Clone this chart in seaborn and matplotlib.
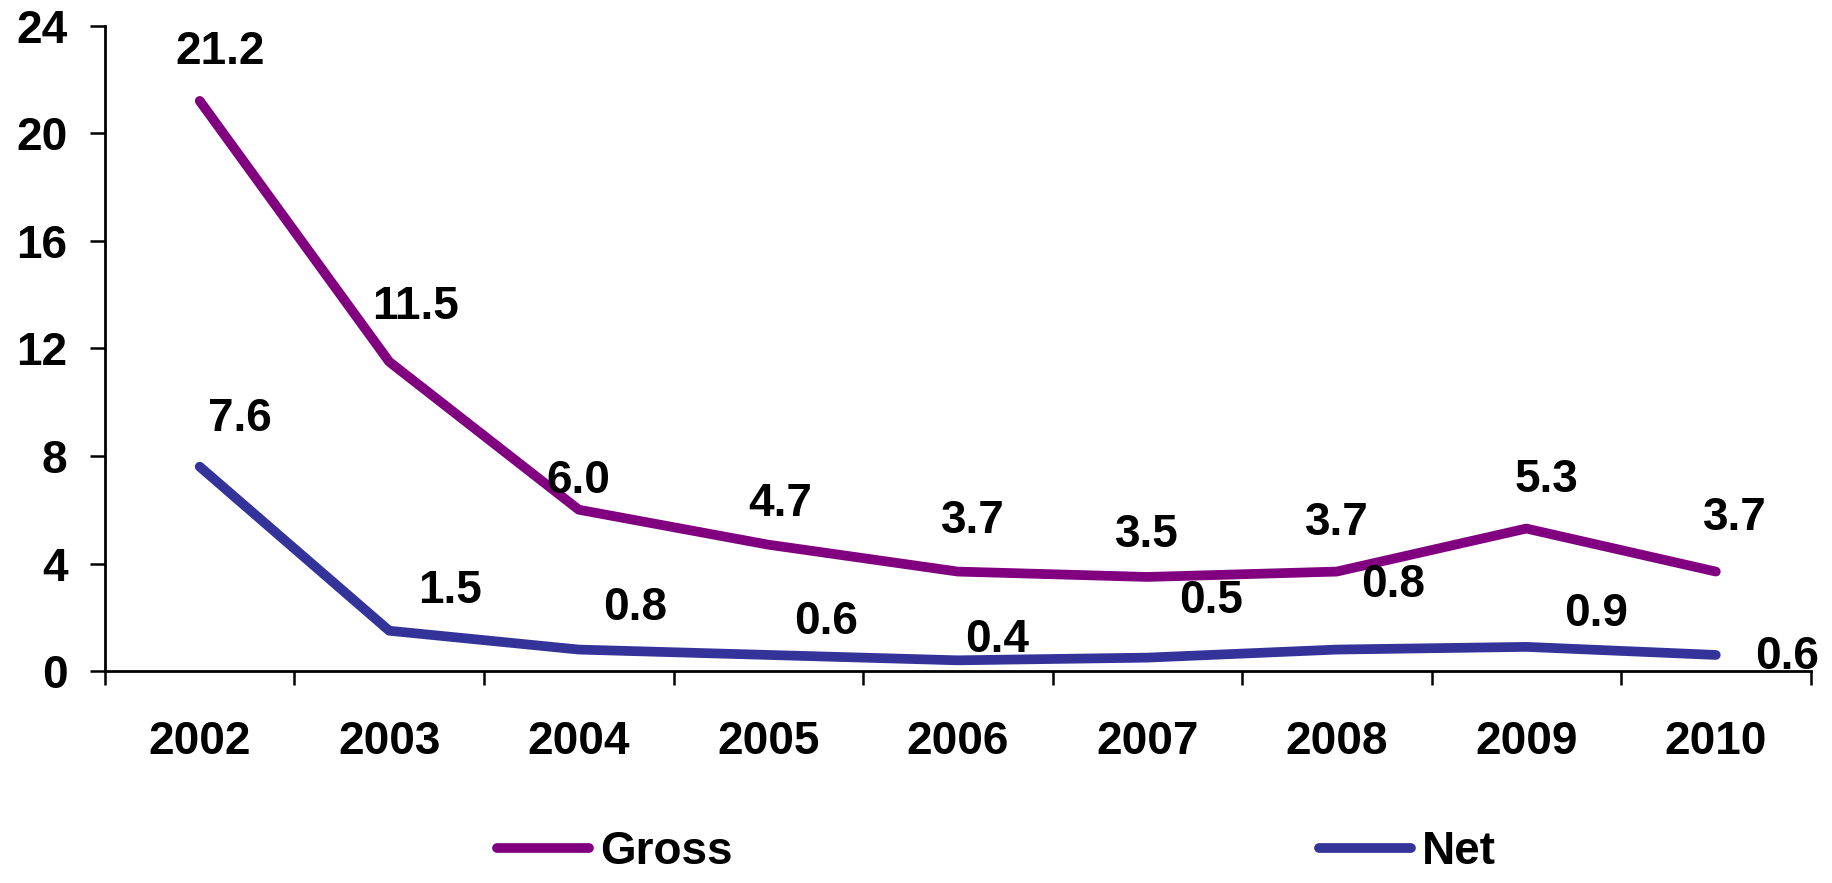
import pandas as pd
import matplotlib.pyplot as plt
import seaborn as sns
import numpy as np


years = ['2002', '2003', '2004', '2005', '2006', '2007', '2008', '2009', '2010']
gross = [21.2, 11.5, 6.0, 4.7, 3.7, 3.5, 3.7, 5.3, 3.7]
net = [7.6, 1.5, 0.8, 0.6, 0.4, 0.5, 0.8, 0.9, 0.6]

# label offsets (pixels) roughly as placed in the original
gross_off = [(20, 49), (26, 55), (0, 29), (12, 41), (15, 51), (0, 42), (0, 49), (20, 49), (19, 54)]
net_off = [(40, 48), (61, 40), (56, 42), (58, 33), (39, 20), (64, 57), (56, 65), (70, 33), (71, -2)]

data = pd.DataFrame({
    'pos': list(range(len(years))) * 2,
    'value': gross + net,
    'series': ['Gross'] * len(years) + ['Net'] * len(years),
})

sns.set_theme(style='white')
plt.rcParams['font.family'] = ['Liberation Sans Narrow', 'Liberation Sans', 'DejaVu Sans']
plt.rcParams['font.weight'] = 'bold'
plt.rcParams['text.color'] = 'black'
plt.rcParams['xtick.color'] = 'black'
plt.rcParams['ytick.color'] = 'black'

fs = 33

fig = plt.figure(figsize=(18.32, 8.83), dpi=100)
ax = fig.add_axes([0.0573, 0.240, 0.931, 0.731])

palette = {'Gross': '#800080', 'Net': '#333399'}
sns.lineplot(data=data, x='pos', y='value', hue='series', palette=palette,
             linewidth=7, ax=ax, legend=False, solid_capstyle='round')

for i, v in enumerate(gross):
    ax.annotate(f'{v:.1f}', (i, v), xytext=gross_off[i], textcoords='offset pixels',
                ha='center', va='center', fontsize=fs, fontweight='bold', color='black')
for i, v in enumerate(net):
    ax.annotate(f'{v:.1f}', (i, v), xytext=net_off[i], textcoords='offset pixels',
                ha='center', va='center', fontsize=fs, fontweight='bold', color='black',
                zorder=5, annotation_clip=False)

ax.set_xlim(-0.5, len(years) - 0.5)
ax.set_ylim(0, 24)
ax.set_yticks(np.arange(0, 25, 4))
ax.set_yticklabels([str(t) for t in range(0, 25, 4)], fontsize=fs, fontweight='bold')
ax.tick_params(axis='y', direction='out', length=11, width=1.8, pad=16, left=True, colors='black')

# boundary ticks as major, year names on minor ticks at the centres
ax.set_xticks(np.arange(-0.5, len(years), 1.0))
ax.set_xticklabels([])
ax.set_xticks(range(len(years)), labels=years, minor=True)
ax.tick_params(axis='x', which='major', direction='out', length=10, width=1.8, bottom=True, colors='black')
ax.tick_params(axis='x', which='minor', length=0, pad=35, labelsize=fs, colors='black')
for lbl in ax.get_xticklabels(minor=True):
    lbl.set_fontweight('bold')

ax.set_xlabel('')
ax.set_ylabel('')
sns.despine(ax=ax)
for side in ['left', 'bottom']:
    ax.spines[side].set_color('black')
    ax.spines[side].set_linewidth(2)

handles = [plt.Line2D([], [], color=palette[s], linewidth=7, solid_capstyle='round') for s in ['Gross', 'Net']]
fig.legend(handles, ['Gross', 'Net'], loc='center', bbox_to_anchor=(0.544, 0.035), ncol=2,
           frameon=False, handlelength=2.0, handletextpad=0.25, columnspacing=12.8,
           prop={'weight': 'bold', 'size': fs})

plt.savefig('out.png', dpi=100)
